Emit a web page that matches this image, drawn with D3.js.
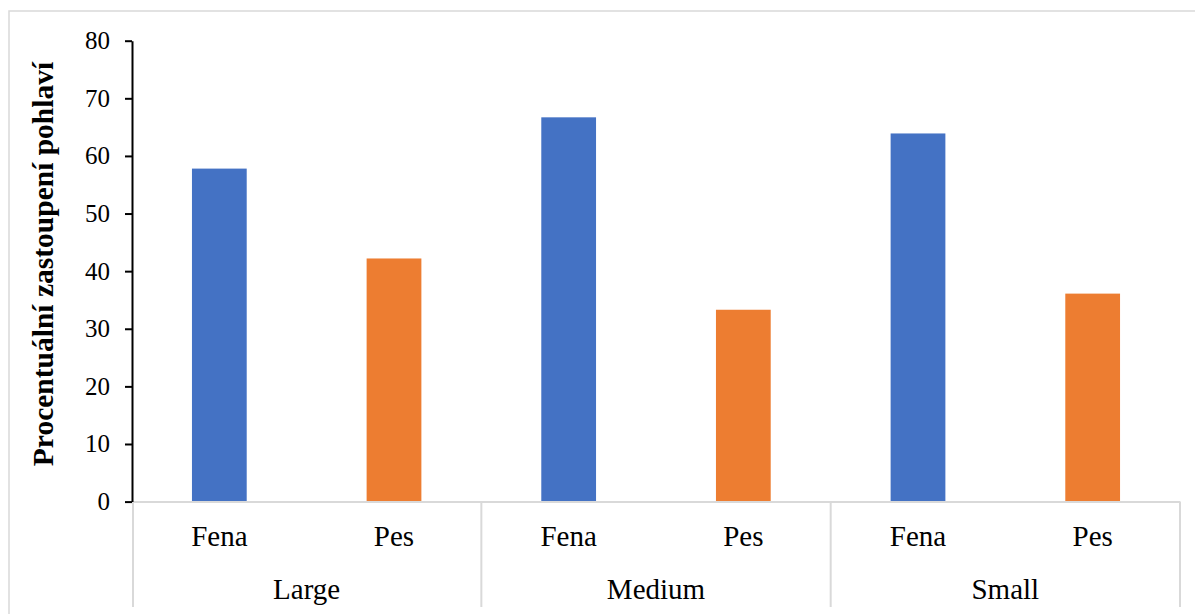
<!DOCTYPE html>
<html>
<head>
<meta charset="utf-8">
<script src="https://cdn.jsdelivr.net/npm/d3@7"></script>
<style>
  html, body { margin: 0; padding: 0; background: #fff; }
  svg { display: block; }
  text { font-family: "Liberation Serif", "Times New Roman", serif; fill: #000; }
</style>
</head>
<body>
<svg id="chart" width="1195" height="614"></svg>
<script>
// Sex representation (%) by dog size group
const groups = ["Large", "Medium", "Small"];
const sexes = ["Fena", "Pes"];
const fenaValues = [57.8, 66.7, 63.9];
const pesValues = [42.2, 33.3, 36.1];
const yTicks = [0, 10, 20, 30, 40, 50, 60, 70, 80];
const yTitle = "Procentuální zastoupení pohlaví";
const colors = { Fena: "#4472C4", Pes: "#ED7D31" };

const rows = [];
groups.forEach((g, i) => {
  rows.push({ group: g, sex: "Fena", value: fenaValues[i] });
  rows.push({ group: g, sex: "Pes", value: pesValues[i] });
});

const svg = d3.select("#chart");
const plotLeft = 132, plotRight = 1180, plotTop = 40.7, plotBottom = 501.6, axisBottom = 607;

// outer chart frame
svg.append("rect")
  .attr("x", 9).attr("y", 11).attr("width", 1200).attr("height", 620)
  .attr("fill", "none").attr("stroke", "#d9d9d9").attr("stroke-width", 1.5);

const y = d3.scaleLinear().domain([0, 80]).range([plotBottom, plotTop]);
const x0 = d3.scaleBand().domain(groups).range([plotLeft, plotRight]).padding(0);
const x1 = d3.scaleBand().domain(sexes).range([0, x0.bandwidth()]).padding(0);
const barW = x1.bandwidth() / 3.19;

// bars
svg.append("g").selectAll("rect").data(rows).join("rect")
  .attr("x", d => x0(d.group) + x1(d.sex) + (x1.bandwidth() - barW) / 2)
  .attr("y", d => y(d.value))
  .attr("width", barW)
  .attr("height", d => y(0) - y(d.value))
  .attr("fill", d => colors[d.sex]);

// category axis: baseline and group separators
const cat = svg.append("g");
cat.append("line")
  .attr("x1", plotLeft).attr("x2", plotRight).attr("y1", y(0) + 0.5).attr("y2", y(0) + 0.5)
  .attr("stroke", "#d9d9d9").attr("stroke-width", 2);
const seps = groups.map(g => x0(g)).concat([plotRight]);
cat.selectAll("line.sep").data(seps).join("line")
  .attr("class", "sep")
  .attr("x1", d => d + (d === plotLeft ? 1 : 0)).attr("x2", d => d + (d === plotLeft ? 1 : 0))
  .attr("y1", y(0)).attr("y2", axisBottom)
  .attr("stroke", "#d9d9d9").attr("stroke-width", 2);

// sex labels
cat.selectAll("text.sex").data(rows).join("text")
  .attr("class", "sex")
  .attr("x", d => x0(d.group) + x1(d.sex) + x1.bandwidth() / 2)
  .attr("y", 546)
  .attr("text-anchor", "middle")
  .style("font-size", "29px")
  .text(d => d.sex);

// group labels
cat.selectAll("text.grp").data(groups).join("text")
  .attr("class", "grp")
  .attr("x", d => x0(d) + x0.bandwidth() / 2)
  .attr("y", 599)
  .attr("text-anchor", "middle")
  .style("font-size", "29px")
  .text(d => d);

// value axis
const yAxis = svg.append("g")
  .attr("transform", `translate(${plotLeft},0)`)
  .call(d3.axisLeft(y).tickValues(yTicks).tickSize(7).tickPadding(15).tickSizeOuter(0));
yAxis.select(".domain").attr("stroke", "#000").attr("stroke-width", 2);
yAxis.selectAll(".tick line").attr("stroke", "#000").attr("stroke-width", 2);
yAxis.selectAll(".tick text")
  .style("font-family", "'Liberation Serif', 'Times New Roman', serif")
  .style("font-size", "25px").attr("fill", "#000");

// value axis title
svg.append("text")
  .attr("transform", "translate(53,264) rotate(-90)")
  .attr("text-anchor", "middle")
  .style("font-size", "29.5px")
  .style("font-weight", "bold")
  .text(yTitle);
</script>
</body>
</html>
